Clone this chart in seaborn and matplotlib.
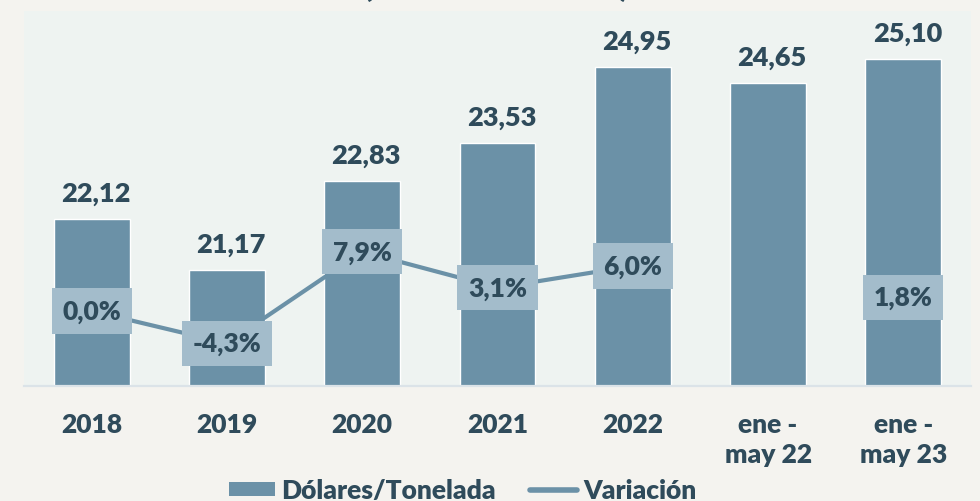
import numpy as np
import pandas as pd
import matplotlib
matplotlib.use("Agg")
import matplotlib.pyplot as plt
from matplotlib.patches import Patch
from matplotlib.lines import Line2D
import seaborn as sns

# ---- data ----
categorias = ["2018", "2019", "2020", "2021", "2022", "ene -\nmay 22", "ene -\nmay 23"]
periodo = ["anual", "anual", "anual", "anual", "anual", "parcial", "parcial"]
dolares_tonelada = [22.12, 21.17, 22.83, 23.53, 24.95, 24.65, 25.10]
variacion = [0.0, -4.3, 7.9, 3.1, 6.0, np.nan, 1.8]
titulo = "(Dólares/Tonelada)"

# ---- style ----
BAR = "#6b91a7"
BOX = "#a3bccb"
TXT = "#2f4b5b"
PLOT_BG = "#eef3f1"
FIG_BG = "#f4f3ef"
WEIGHT = "heavy"

sns.set_style("white")
plt.rcParams["font.family"] = ["Lato", "DejaVu Sans"]
plt.rcParams["font.weight"] = WEIGHT

df = pd.DataFrame({
    "cat": categorias,
    "pos": np.arange(len(categorias)),
    "periodo": periodo,
    "valor": dolares_tonelada,
    "var": variacion,
})

fig = plt.figure(figsize=(9.8, 5.02), dpi=100, facecolor=FIG_BG)
W, H = 980, 502
ax = fig.add_axes([24 / W, (H - 387) / H, (971 - 24) / W, (387 - 12) / H])
ax.set_facecolor(PLOT_BG)

sns.barplot(data=df, x="pos", y="valor", color=BAR, width=0.56,
            saturation=1, ax=ax, native_scale=False)
ax.set_ylim(19, 26)
ax.set_xlim(-0.5, len(categorias) - 0.5)

for i, v in enumerate(dolares_tonelada):
    ax.annotate(f"{v:.2f}".replace(".", ","), (i, v), xytext=(4, 26),
                textcoords="offset pixels", ha="center", va="center",
                fontsize=19.5, fontweight=WEIGHT, color=TXT)

ax.set_xticks(df["pos"])
ax.set_xticklabels(categorias, fontsize=19, fontweight=WEIGHT, color=TXT,
                   linespacing=1.3)
ax.tick_params(axis="x", length=0, pad=19)
ax.set_yticks([])
ax.set_xlabel("")
ax.set_ylabel("")
for s in ["left", "right", "top"]:
    ax.spines[s].set_visible(False)
ax.spines["bottom"].set_color("#dbe3e8")
ax.spines["bottom"].set_linewidth(1.6)

ax2 = ax.twinx()
ax2.set_ylim(-10, 40)
sns.lineplot(data=df[df["periodo"] == "anual"], x="pos", y="var", color=BAR,
             linewidth=3.0, ax=ax2, legend=False)
ax2.set_xlim(-0.5, len(categorias) - 0.5)
for i, v in enumerate(variacion):
    if np.isnan(v):
        continue
    ax2.text(i, v, f"{v:.1f}%".replace(".", ","), ha="center", va="center",
             fontsize=19, fontweight=WEIGHT, color=TXT,
             bbox=dict(boxstyle="square,pad=0.4", fc=BOX, ec="none"))
ax2.set_yticks([])
ax2.set_ylabel("")
ax2.set_xlabel("")
for s in ["left", "right", "top", "bottom"]:
    ax2.spines[s].set_visible(False)

handles = [Patch(facecolor=BAR, edgecolor="none"),
           Line2D([0], [0], color=BAR, linewidth=4)]
fig.legend(handles, ["Dólares/Tonelada", "Variación"], loc="lower center",
           bbox_to_anchor=(0.472, -0.05), ncol=2, frameon=False,
           prop=dict(family=["Lato", "DejaVu Sans"], weight=WEIGHT, size=19),
           labelcolor=TXT, handlelength=1.75, handleheight=0.45,
           columnspacing=1.3, handletextpad=0.25)

fig.text(0.506, 1.0 + 3.0 / H, titulo, ha="center", va="baseline",
         fontsize=22, fontweight=WEIGHT, color=TXT)

fig.savefig("out.png", dpi=100, facecolor=FIG_BG)
